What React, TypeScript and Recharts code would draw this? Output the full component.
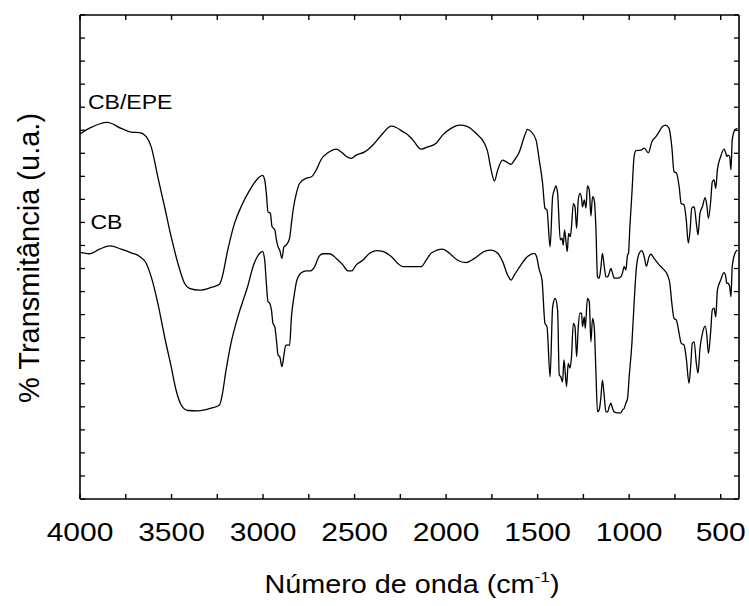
import React from 'react';
import { LineChart, Line, XAxis, YAxis, Customized } from 'recharts';

// wavenumbers (cm-1) and transmittance (a.u.)
const wnEPE = [4000, 3945, 3851, 3775, 3720, 3674, 3638, 3611, 3575, 3538, 3502, 3465, 3429, 3402, 3347, 3284, 3238, 3225, 3193, 3156, 3120, 3073, 3027, 3003, 2991, 2982, 2973, 2960, 2951, 2936, 2927, 2918, 2909, 2897, 2886, 2873, 2855, 2845, 2833, 2818, 2800, 2763, 2736, 2709, 2682, 2646, 2600, 2573, 2545, 2518, 2491, 2445, 2400, 2346, 2300, 2272, 2237, 2218, 2182, 2136, 2100, 2054, 2018, 1973, 1927, 1882, 1836, 1791, 1773, 1754, 1736, 1718, 1691, 1673, 1645, 1627, 1600, 1573, 1555, 1536, 1509, 1491, 1473, 1460, 1449, 1432, 1418, 1409, 1400, 1391, 1376, 1367, 1360, 1353, 1345, 1338, 1331, 1322, 1315, 1305, 1296, 1287, 1278, 1269, 1260, 1255, 1245, 1236, 1228, 1218, 1209, 1200, 1191, 1182, 1173, 1164, 1154, 1146, 1136, 1127, 1118, 1109, 1100, 1091, 1082, 1064, 1045, 1037, 1027, 1018, 1009, 1004, 996, 985, 973, 963, 936, 918, 895, 876, 854, 836, 818, 800, 782, 767, 755, 742, 727, 716, 700, 688, 677, 667, 658, 645, 633, 624, 613, 600, 585, 576, 567, 554, 546, 536, 527, 518, 500, 482, 472, 467, 460, 451, 444, 437, 422, 409];
const tEPE = [79.2, 80.5, 81.7, 80.4, 79.6, 79.5, 78.6, 76.4, 69.9, 63.4, 56.9, 51.1, 46.8, 45.7, 45.3, 45.9, 46.6, 47.9, 54.0, 59.8, 63.4, 67.0, 69.6, 70.2, 69.2, 66.3, 62.3, 62.0, 59.1, 58.4, 56.2, 54.7, 54.0, 52.2, 54.7, 55.1, 56.6, 59.8, 63.4, 66.3, 68.5, 69.6, 69.9, 71.4, 73.7, 75.1, 75.9, 75.3, 74.3, 73.9, 74.6, 75.3, 76.8, 79.3, 80.9, 80.6, 79.7, 79.3, 77.9, 75.9, 76.4, 77.2, 79.0, 80.4, 81.1, 80.8, 79.3, 77.2, 75.3, 71.4, 69.0, 71.4, 73.5, 73.2, 72.6, 73.5, 75.3, 78.6, 80.2, 79.7, 77.9, 73.5, 68.5, 63.1, 62.7, 54.7, 65.6, 67.0, 67.9, 66.3, 56.2, 56.6, 55.1, 58.4, 55.8, 53.7, 57.6, 56.9, 59.1, 64.1, 63.4, 58.7, 64.9, 66.3, 65.2, 63.4, 64.9, 63.1, 67.9, 67.0, 61.4, 65.6, 64.9, 59.1, 48.2, 47.9, 50.4, 53.3, 50.4, 48.2, 48.2, 49.0, 50.0, 49.0, 47.9, 47.9, 48.2, 49.0, 50.4, 49.7, 52.9, 53.3, 59.1, 66.3, 74.3, 75.6, 75.7, 76.1, 75.1, 77.5, 78.6, 79.7, 80.8, 81.1, 80.4, 76.4, 71.0, 70.7, 67.8, 64.1, 63.8, 60.5, 55.5, 58.4, 63.1, 63.4, 59.8, 57.3, 62.0, 63.4, 65.4, 63.8, 60.9, 64.9, 68.8, 69.2, 67.4, 71.4, 74.3, 75.9, 75.0, 74.3, 74.6, 74.3, 71.4, 77.9, 80.1, 80.4];

const wnCB = [4000, 3947, 3893, 3835, 3775, 3720, 3674, 3638, 3611, 3575, 3538, 3502, 3475, 3447, 3411, 3356, 3284, 3238, 3225, 3202, 3175, 3138, 3102, 3084, 3055, 3018, 3003, 2991, 2982, 2973, 2964, 2954, 2946, 2936, 2927, 2918, 2909, 2897, 2886, 2876, 2855, 2845, 2831, 2815, 2791, 2763, 2740, 2718, 2695, 2673, 2636, 2600, 2564, 2537, 2515, 2491, 2455, 2418, 2382, 2346, 2300, 2264, 2237, 2218, 2182, 2136, 2109, 2082, 2018, 1982, 1937, 1891, 1845, 1791, 1754, 1718, 1691, 1664, 1645, 1627, 1591, 1555, 1518, 1506, 1491, 1476, 1460, 1449, 1432, 1418, 1404, 1391, 1382, 1373, 1364, 1356, 1349, 1342, 1333, 1323, 1315, 1305, 1296, 1287, 1278, 1269, 1260, 1255, 1245, 1240, 1228, 1218, 1209, 1200, 1191, 1182, 1173, 1164, 1154, 1146, 1136, 1127, 1118, 1109, 1100, 1091, 1082, 1064, 1045, 1037, 1027, 1018, 1009, 1000, 985, 973, 960, 945, 931, 918, 906, 891, 882, 864, 836, 809, 791, 778, 767, 755, 742, 727, 716, 700, 688, 673, 663, 655, 645, 633, 624, 613, 600, 585, 576, 567, 554, 546, 536, 527, 518, 500, 482, 472, 467, 460, 451, 444, 437, 422, 409];
const tCB = [53.5, 53.2, 54.2, 54.9, 54.2, 53.4, 52.6, 51.1, 48.2, 42.5, 35.2, 28.7, 23.6, 20.4, 19.2, 19.1, 19.7, 20.4, 22.2, 28.0, 33.8, 39.5, 43.9, 46.1, 50.4, 53.3, 53.7, 51.8, 46.8, 42.8, 42.5, 41.0, 38.1, 37.4, 34.5, 31.2, 30.9, 28.7, 31.2, 33.4, 33.4, 39.5, 43.9, 47.5, 49.1, 49.5, 49.5, 50.4, 52.6, 53.2, 53.2, 52.2, 50.8, 49.5, 49.5, 50.8, 51.8, 53.3, 53.9, 53.7, 52.6, 51.1, 50.4, 50.4, 50.4, 50.4, 51.8, 53.3, 54.2, 53.3, 51.8, 51.3, 52.2, 53.7, 54.0, 53.3, 51.5, 48.6, 47.5, 48.6, 50.8, 52.6, 53.3, 52.6, 49.7, 47.5, 38.1, 37.4, 26.5, 41.7, 43.5, 41.0, 26.9, 26.5, 25.4, 30.2, 27.3, 24.4, 29.4, 28.4, 30.9, 38.1, 37.4, 30.9, 37.4, 40.3, 40.3, 37.4, 39.5, 37.0, 43.5, 42.8, 34.1, 39.2, 37.4, 28.0, 18.9, 19.3, 22.2, 25.8, 22.2, 18.9, 18.9, 20.0, 20.8, 19.7, 18.9, 18.7, 18.7, 19.3, 19.7, 20.8, 21.8, 26.5, 33.8, 42.5, 50.4, 53.3, 53.9, 52.6, 50.5, 52.6, 53.1, 52.2, 50.8, 49.7, 48.6, 46.8, 42.5, 39.2, 38.8, 35.9, 33.8, 33.4, 30.5, 25.1, 29.4, 33.8, 34.1, 29.4, 27.3, 32.7, 35.9, 37.5, 35.6, 31.6, 36.7, 41.0, 41.4, 39.5, 45.3, 47.5, 49.1, 48.2, 46.8, 46.8, 46.1, 43.9, 50.4, 53.3, 54.0];

const xTicks = [4000, 3750, 3500, 3250, 3000, 2750, 2500, 2250, 2000, 1750, 1500, 1250, 1000, 750, 500];
const yTicks = [0, 5, 10, 15, 20, 25, 30, 35, 40, 45, 50, 55, 60, 65, 70, 75, 80, 85, 90, 95, 100, 105];

const FONT = '"Liberation Sans", Arial, sans-serif';
const TICK_LEN = 5;
const X_MIN = 400;
const X_MAX = 4000;
const Y_MAX = 105;

// plot box (chart size minus margins and axis sizes below)
const PLOT = { left: 80, top: 15, width: 659, height: 484 };

const epeData = wnEPE.map((wn, i) => ({ wn, t: tEPE[i] }));
const cbData = wnCB.map((wn, i) => ({ wn, t: tCB[i] }));

const BottomLabel = (props: any) => {
  const { x, y, payload } = props;
  if (payload.value % 500 !== 0) return <g />;
  return (
    <text
      transform={`translate(${x},${Number(y) + 42}) scale(1.2,1)`}
      textAnchor="middle"
      fontSize={25}
      fontFamily={FONT}
      fill="#000"
    >
      {payload.value}
    </text>
  );
};

const LeftTick = (props: any) => (
  <line x1={props.x} x2={props.x + TICK_LEN} y1={props.y} y2={props.y} stroke="#000" strokeWidth={1.3} />
);

const RightTick = (props: any) => (
  <line x1={props.x} x2={props.x - TICK_LEN} y1={props.y} y2={props.y} stroke="#000" strokeWidth={1.3} />
);

// texts plus the inward tick marks of the bottom and top frame
const Overlay = () => {
  const bottom = PLOT.top + PLOT.height;
  return (
    <g>
      {xTicks.map((v) => {
        const px = PLOT.left + ((X_MAX - v) / (X_MAX - X_MIN)) * PLOT.width;
        return (
          <g key={v}>
            <rect x={px - 0.7} y={bottom - TICK_LEN} width={1.4} height={TICK_LEN} fill="#000" />
            <rect x={px - 0.7} y={PLOT.top} width={1.4} height={TICK_LEN} fill="#000" />
          </g>
        );
      })}
      <g fontFamily={FONT} fill="#000">
        <text transform="translate(88,109) scale(1.15,1)" fontSize={20}>CB/EPE</text>
        <text transform="translate(90.5,229) scale(1.15,1)" fontSize={20}>CB</text>
        <text transform="translate(412,593) scale(1.15,1)" fontSize={25} textAnchor="middle">
          Número de onda (cm<tspan fontSize={15} dy={-11}>-1</tspan><tspan dy={11}>)</tspan>
        </text>
        <text transform="translate(39,258) rotate(-90)" fontSize={29} textAnchor="middle">
          % Transmitância (u.a.)
        </text>
      </g>
    </g>
  );
};

export default function App() {
  const axisStyle = { stroke: '#000', strokeWidth: 1.6 };
  return (
    <div style={{ position: 'absolute', left: 0, top: 0, background: '#fff' }}>
      <LineChart width={749} height={606} margin={{ top: 10, right: 0, bottom: 47, left: 40 }}>
        <XAxis
          xAxisId="bottom"
          dataKey="wn"
          type="number"
          domain={[X_MIN, X_MAX]}
          reversed
          allowDataOverflow
          ticks={xTicks}
          interval={0}
          height={60}
          tickSize={0}
          tickMargin={0}
          axisLine={axisStyle}
          tickLine={false}
          tick={<BottomLabel />}
        />
        <XAxis
          xAxisId="top"
          orientation="top"
          dataKey="wn"
          type="number"
          domain={[X_MIN, X_MAX]}
          reversed
          allowDataOverflow
          ticks={xTicks}
          height={5}
          axisLine={axisStyle}
          tickLine={false}
          tick={false}
        />
        <YAxis
          yAxisId="left"
          type="number"
          domain={[0, Y_MAX]}
          allowDataOverflow
          ticks={yTicks}
          interval={0}
          width={40}
          tickSize={0}
          tickMargin={0}
          axisLine={axisStyle}
          tickLine={false}
          tick={<LeftTick />}
        />
        <YAxis
          yAxisId="right"
          orientation="right"
          type="number"
          domain={[0, Y_MAX]}
          allowDataOverflow
          ticks={yTicks}
          interval={0}
          width={10}
          tickSize={0}
          tickMargin={0}
          axisLine={axisStyle}
          tickLine={false}
          tick={<RightTick />}
        />
        <Line
          xAxisId="bottom"
          yAxisId="left"
          data={epeData}
          dataKey="t"
          name="CB/EPE"
          type="monotone"
          stroke="#000"
          strokeWidth={1.3}
          dot={false}
          isAnimationActive={false}
        />
        <Line
          xAxisId="bottom"
          yAxisId="left"
          data={cbData}
          dataKey="t"
          name="CB"
          type="monotone"
          stroke="#000"
          strokeWidth={1.3}
          dot={false}
          isAnimationActive={false}
        />
        <Customized component={Overlay} />
      </LineChart>
    </div>
  );
}
